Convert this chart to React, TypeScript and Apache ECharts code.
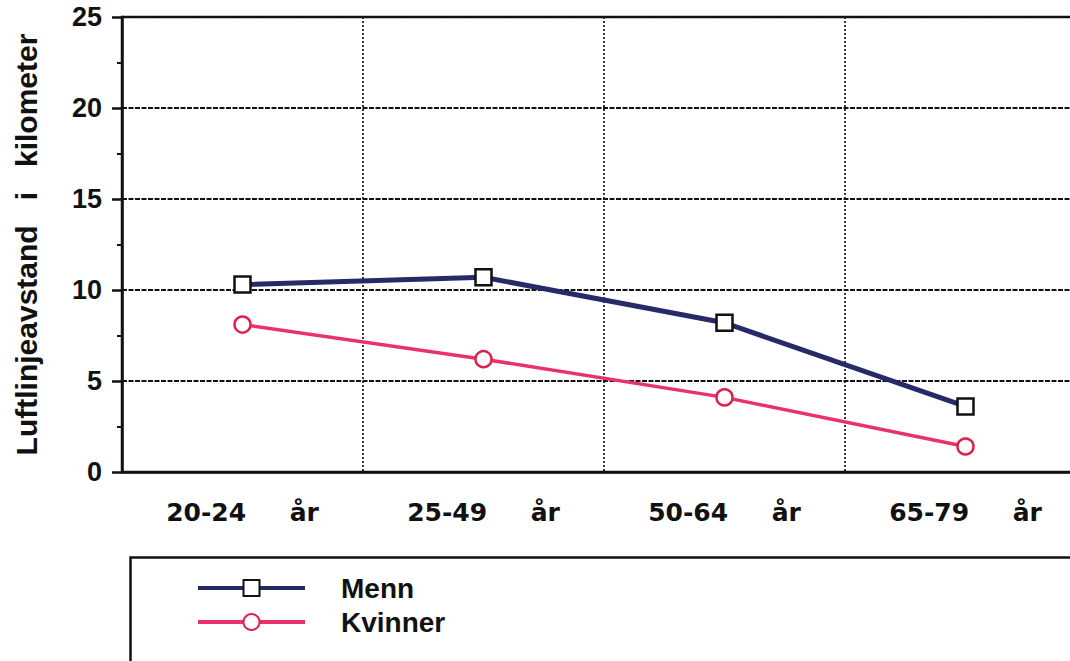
import React, { useEffect, useRef } from "react";
import * as echarts from "echarts";

const categories = ["20-24\u00a0\u00a0\u00a0\u00a0\u00a0år", "25-49\u00a0\u00a0\u00a0\u00a0\u00a0år", "50-64\u00a0\u00a0\u00a0\u00a0\u00a0år", "65-79\u00a0\u00a0\u00a0\u00a0\u00a0år"];
const menn = [10.3, 10.7, 8.2, 3.6];
const kvinner = [8.1, 6.2, 4.1, 1.4];
const yAxisName = "Luftlinjeavstand\u00a0\u00a0\u00a0i\u00a0\u00a0\u00a0kilometer";

const FONT = "'Liberation Sans', Arial, sans-serif";
const XFONT = "'DejaVu Sans', sans-serif";

export default function App() {
  const ref = useRef<HTMLDivElement>(null);
  useEffect(() => {
    document.body.style.margin = "0";
    document.body.style.overflow = "hidden";
    const chart = echarts.init(ref.current!, undefined, { renderer: "svg" });
    chart.setOption({
      animation: false,
      backgroundColor: "#ffffff",
      grid: {
        left: 122,
        top: 17,
        right: 0,
        bottom: 189,
        show: true,
        borderColor: "#111",
        borderWidth: 2.5,
      },
      legend: {
        orient: "vertical",
        left: 191,
        top: 569,
        itemWidth: 107,
        itemHeight: 20,
        itemGap: 6,
        data: ["Menn", "Kvinner"],
        lineStyle: { width: 4 },
        textStyle: {
          fontFamily: FONT,
          fontWeight: "bold",
          fontSize: 28,
          color: "#111",
          padding: [0, 0, 0, 31],
        },
      },
      xAxis: {
        type: "category",
        data: categories,
        boundaryGap: true,
        axisLine: { show: true, lineStyle: { color: "#111", width: 2.5 } },
        axisTick: { show: false },
        axisLabel: {
          margin: 28,
          fontFamily: XFONT,
          fontWeight: "bold",
          fontSize: 25,
          color: "#111",
        },
        splitLine: {
          show: true,
          lineStyle: { color: "#222", width: 1.8, type: [2, 2] },
        },
      },
      yAxis: {
        type: "value",
        min: 0,
        max: 25,
        interval: 5,
        name: yAxisName,
        nameLocation: "middle",
        nameGap: 81,
        nameTextStyle: {
          fontFamily: FONT,
          fontWeight: "bold",
          fontSize: 30,
          color: "#111",
        },
        axisLine: { show: true, lineStyle: { color: "#111", width: 2.5 } },
        axisTick: { show: true, inside: false, length: 10, lineStyle: { color: "#111", width: 2.5 } },
        minorTick: { show: true, splitNumber: 2, length: 5, lineStyle: { color: "#111", width: 2 } },
        axisLabel: {
          margin: 20,
          fontFamily: FONT,
          fontWeight: "bold",
          fontSize: 27,
          color: "#111",
        },
        splitLine: {
          show: true,
          lineStyle: { color: "#111", width: 1.8, type: [5, 1.5] },
        },
      },
      graphic: [
        {
          type: "rect",
          left: 128,
          top: 555,
          shape: { width: 1000, height: 200 },
          style: { fill: "none", stroke: "#111", lineWidth: 2.5 },
          z: 10,
        },
      ],
      series: [
        {
          name: "Menn",
          type: "line",
          data: menn,
          symbol: "rect",
          symbolSize: 16,
          color: "#262a66",
          lineStyle: { color: "#262a66", width: 5 },
          itemStyle: { color: "#ffffff", borderColor: "#111", borderWidth: 2.5 },
          z: 3,
        },
        {
          name: "Kvinner",
          type: "line",
          data: kvinner,
          symbol: "circle",
          symbolSize: 16,
          color: "#e8336a",
          lineStyle: { color: "#e8336a", width: 3.5 },
          itemStyle: { color: "#ffffff", borderColor: "#e0204a", borderWidth: 2.5 },
          z: 3,
        },
      ],
    });
    return () => chart.dispose();
  }, []);
  return <div ref={ref} style={{ width: 1086, height: 661 }} />;
}
